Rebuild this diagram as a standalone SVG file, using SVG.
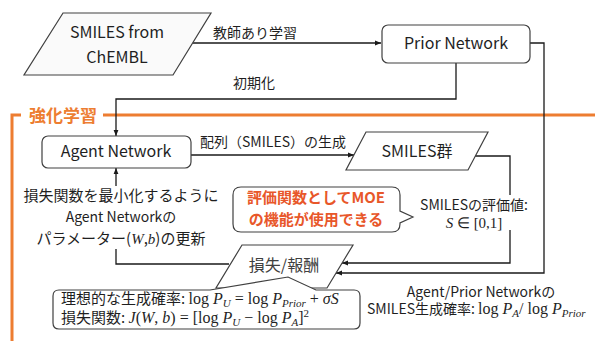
<svg xmlns="http://www.w3.org/2000/svg" width="595" height="341" viewBox="0 0 595 341">
<defs>
<style>
.t{font-family:"Noto Sans CJK JP","Noto Sans",sans-serif;fill:#1f1f1f;}
.m{font-family:"Liberation Serif",serif;fill:#1f1f1f;}
.i{font-style:italic;}
.box{fill:#ffffff;stroke:#404040;stroke-width:1.2;}
.ln{fill:none;stroke:#1a1a1a;stroke-width:1.3;}
.or{fill:none;stroke:#ED7D31;stroke-width:3;}
.call{font-family:"Noto Sans CJK JP",sans-serif;fill:#E8572A;font-weight:bold;}
</style>
<marker id="ah" viewBox="0 0 10 10" refX="10" refY="5" markerWidth="6" markerHeight="6" orient="auto" markerUnits="userSpaceOnUse">
<path d="M0,1 L10,5 L0,9 Z" fill="#1a1a1a"/>
</marker>
</defs>
<rect width="595" height="341" fill="#ffffff"/>

<g id="frame">
<path class="or" d="M12,341 V115 H21 M103,115 H595"/>
<text x="29" y="122" font-size="17" font-weight="bold" style="font-family:'Noto Sans CJK JP',sans-serif;fill:#ED7D31">強化学習</text>
</g>

<g id="connectors">
<path class="ln" d="M193,43 H381" marker-end="url(#ah)"/>
<path class="ln" d="M456,63 V99 H116 V136" marker-end="url(#ah)"/>
<path class="ln" d="M191,155 H354" marker-end="url(#ah)"/>
<path class="ln" d="M475,156 H510 V263 H342" marker-end="url(#ah)"/>
<path class="ln" d="M530,43 H544 V273 H336" marker-end="url(#ah)"/>
<path class="ln" d="M229,264 H116 V168" marker-end="url(#ah)"/>
<text class="t" x="213" y="38" font-size="14">教師あり学習</text>
<text class="t" x="233" y="88" font-size="14">初期化</text>
<text class="t" x="200" y="147" font-size="14">配列（SMILES）の生成</text>
</g>

<g id="smiles-chembl">
<path class="box" d="M63,13 H211 L173,75 H24 Z" style="fill:#fafafa"/>
<text class="t" x="117" y="38" font-size="16" text-anchor="middle">SMILES from</text>
<text class="t" x="117" y="63" font-size="16" text-anchor="middle">ChEMBL</text>
</g>

<g id="prior-network">
<rect class="box" x="382" y="25" width="148" height="38" rx="6"/>
<text class="t" x="456" y="49" font-size="16" text-anchor="middle">Prior Network</text>
</g>

<g id="agent-network">
<rect class="box" x="42" y="136" width="149" height="32" rx="6"/>
<text class="t" x="116" y="157" font-size="16" text-anchor="middle">Agent Network</text>
</g>

<g id="smiles-group">
<path class="box" d="M366,132 H488 L468,170 H346 Z"/>
<text class="t" x="417" y="157" font-size="16" text-anchor="middle">SMILES群</text>
</g>

<g id="update-label">
<rect x="20" y="186" width="204" height="63" fill="#ffffff"/>
<text class="t" x="121" y="201" font-size="15" text-anchor="middle">損失関数を最小化するように</text>
<text class="t" x="121" y="222" font-size="14" text-anchor="middle">Agent Networkの</text>
<text class="t" x="121" y="244" font-size="15" text-anchor="middle">パラメーター(<tspan class="m i">W</tspan>,<tspan class="m i">b</tspan>)の更新</text>
</g>

<g id="moe-callout">
<path class="box" d="M241,187 H392 Q400,187 400,195 V211 L413,217 L400,223 V224 Q400,232 392,232 H241 Q233,232 233,224 V195 Q233,187 241,187 Z"/>
<text class="call" x="316" y="203" font-size="15" text-anchor="middle">評価関数としてMOE</text>
<text class="call" x="316" y="225" font-size="15" text-anchor="middle">の機能が使用できる</text>
</g>

<g id="score-label">
<rect x="416" y="195" width="117" height="35" fill="#ffffff"/>
<text class="t" x="474" y="210" font-size="14" text-anchor="middle">SMILESの評価値:</text>
<text class="m" x="474" y="228" font-size="15" text-anchor="middle"><tspan class="i">S</tspan> ∈ [0,1]</text>
</g>

<g id="loss-reward">
<path class="box" d="M242,245 H353 L327,288 H216 Z"/>
<text class="t" x="284" y="271" font-size="16" text-anchor="middle" style="fill:#404040">損失/報酬</text>
</g>

<g id="formula-box">
<path class="box" d="M59,290 H210 L288,277 L316,290 H354 Q360,290 360,296 V323 Q360,329 354,329 H59 Q53,329 53,323 V296 Q53,290 59,290 Z"/>
<text x="61" y="304" font-size="15"><tspan class="t">理想的な生成確率: </tspan><tspan class="m" font-size="16">log </tspan><tspan class="m i" font-size="16">P</tspan><tspan class="m i" font-size="11" dy="3">U</tspan><tspan class="m" font-size="16" dy="-3"> = log </tspan><tspan class="m i" font-size="16">P</tspan><tspan class="m i" font-size="11" dy="3">Prior</tspan><tspan class="m" font-size="16" dy="-3"> + </tspan><tspan class="m i" font-size="16">σS</tspan></text>
<text x="61" y="323" font-size="15"><tspan class="t">損失関数: </tspan><tspan class="m i" font-size="16">J</tspan><tspan class="m" font-size="16">(</tspan><tspan class="m i" font-size="16">W</tspan><tspan class="m" font-size="16">, </tspan><tspan class="m i" font-size="16">b</tspan><tspan class="m" font-size="16">) = [log </tspan><tspan class="m i" font-size="16">P</tspan><tspan class="m i" font-size="11" dy="3">U</tspan><tspan class="m" font-size="16" dy="-3"> − log </tspan><tspan class="m i" font-size="16">P</tspan><tspan class="m i" font-size="11" dy="3">A</tspan><tspan class="m" font-size="16" dy="-3">]</tspan><tspan class="m" font-size="11" dy="-6">2</tspan></text>
</g>

<g id="prob-label">
<text class="t" x="481" y="297" font-size="14" text-anchor="middle">Agent/Prior Networkの</text>
<text x="367" y="314" font-size="14"><tspan class="t">SMILES生成確率:  </tspan><tspan class="m" font-size="16">log </tspan><tspan class="m i" font-size="16">P</tspan><tspan class="m i" font-size="11" dy="3">A</tspan><tspan class="m" font-size="16" dy="-3">/ log </tspan><tspan class="m i" font-size="16">P</tspan><tspan class="m i" font-size="11" dy="3">Prior</tspan></text>
</g>
</svg>
